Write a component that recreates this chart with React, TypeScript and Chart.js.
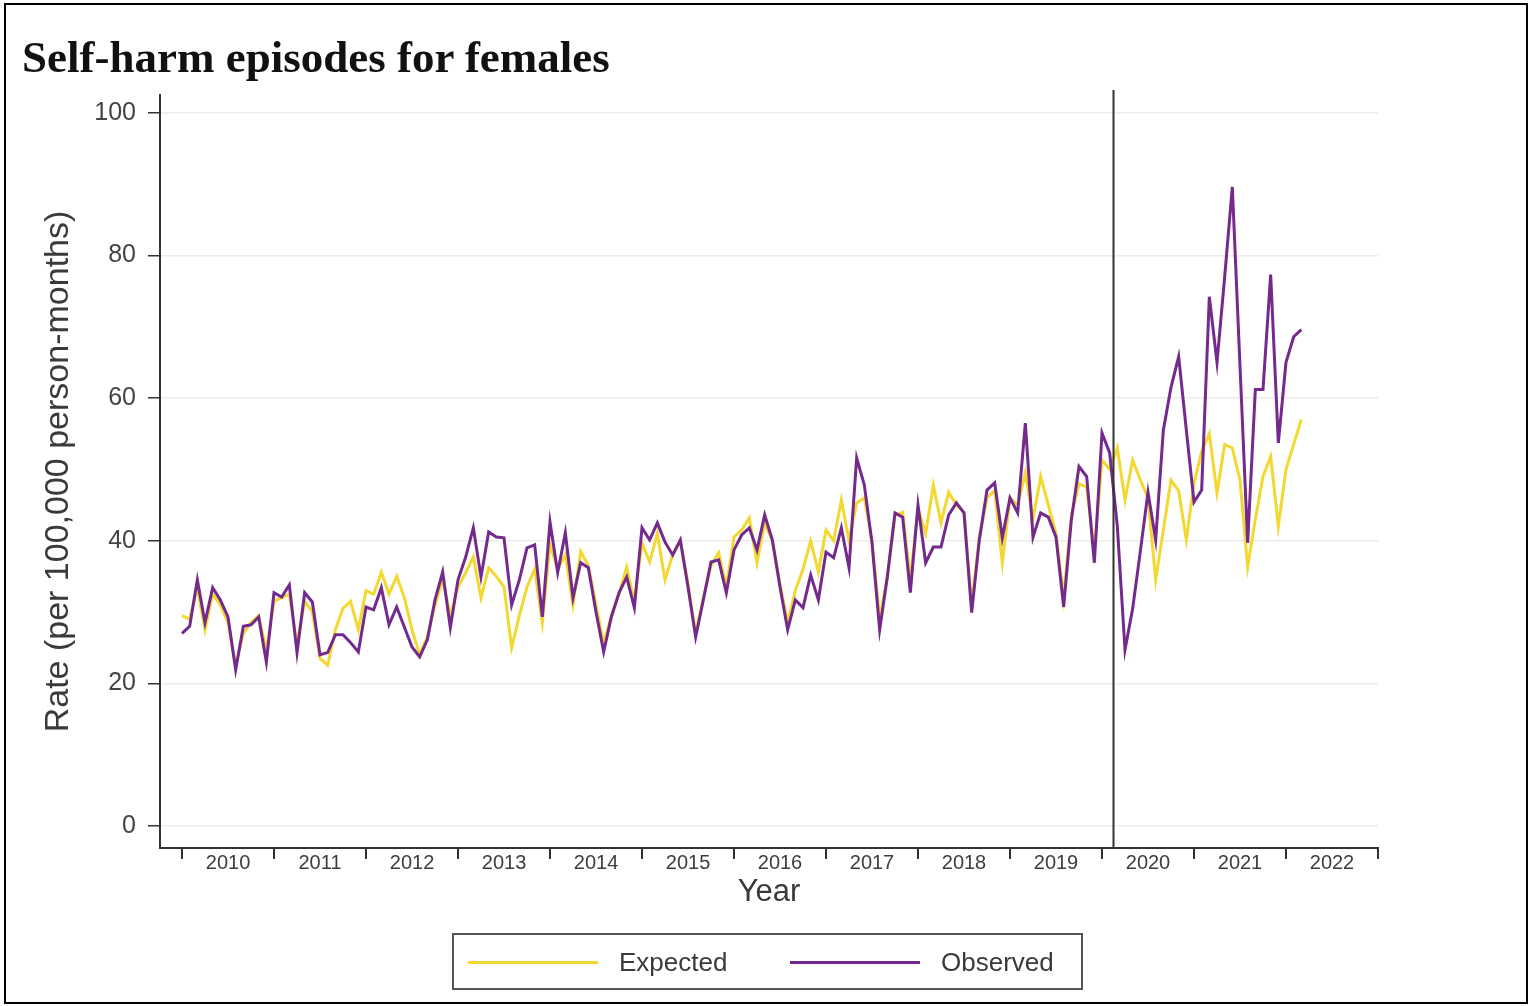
import { useEffect, useRef } from 'react';
import { Chart, registerables } from 'chart.js';

Chart.register(...registerables);

// Monthly rates, Jan 2010 – Mar 2022 (index 0 = Jan 2010)
const observed = [
  27.0, 28.0, 34.5, 28.5, 33.4, 31.7, 29.3, 21.9, 28.0, 28.2, 29.3, 23.0,
  32.7, 32.1, 33.8, 24.3, 32.7, 31.4, 24.0, 24.3, 26.8, 26.8, 25.7, 24.4,
  30.7, 30.3, 33.4, 28.2, 30.7, 27.9, 25.1, 23.7, 26.1, 31.7, 35.6, 27.8,
  34.5, 37.7, 41.8, 34.9, 41.2, 40.5, 40.4, 31.0, 34.5, 39.0, 39.4, 29.3,
  42.6, 35.5, 41.1, 32.0, 36.9, 36.2, 30.0, 24.4, 29.3, 32.7, 34.9, 30.6,
  41.8, 40.1, 42.5, 39.8, 38.0, 40.1, 33.5, 26.5, 31.7, 37.0, 37.3, 32.7,
  38.7, 40.8, 41.8, 38.7, 43.6, 40.1, 33.5, 27.5, 31.7, 30.6, 35.2, 31.7,
  38.4, 37.6, 41.8, 36.2, 51.6, 47.8, 39.7, 27.5, 34.9, 43.9, 43.3, 32.7,
  45.0, 36.9, 39.1, 39.1, 43.6, 45.3, 43.9, 29.9, 40.1, 47.1, 48.1, 40.4,
  46.0, 43.9, 56.5, 40.5, 43.9, 43.3, 40.5, 30.7, 42.9, 50.4, 49.0, 36.9,
  55.1, 52.3, 42.0, 24.7, 30.5, 38.5, 46.8, 40.1, 55.5, 61.5, 65.8, 55.5,
  45.4, 47.1, 74.2, 65.0, 77.0, 89.6, 64.5, 39.7, 61.2, 61.2, 77.3, 53.7,
  65.0, 68.6, 69.6,
];

const expected = [
  29.5, 29.0, 33.5, 27.5, 32.5, 31.0, 28.5, 22.5, 27.0, 28.5, 29.5, 24.5,
  31.5, 32.0, 32.5, 25.5, 31.5, 30.0, 23.5, 22.5, 27.5, 30.5, 31.5, 27.5,
  33.0, 32.5, 35.6, 32.5, 35.0, 32.0, 27.5, 24.0, 26.5, 31.0, 34.5, 29.5,
  33.5, 35.5, 37.7, 32.0, 36.2, 35.0, 33.5, 25.0, 29.5, 33.5, 36.0, 28.5,
  39.5, 36.0, 38.0, 31.0, 38.5, 36.5, 31.0, 25.5, 29.5, 32.5, 36.3, 31.5,
  39.7, 37.0, 41.0, 34.5, 38.0, 40.0, 34.0, 27.0, 32.0, 36.5, 38.3, 33.5,
  40.5, 41.5, 43.2, 36.9, 42.5, 40.0, 34.0, 28.5, 33.0, 36.0, 40.0, 35.6,
  41.5, 40.0, 45.7, 40.0, 45.3, 46.0, 40.0, 29.0, 35.0, 43.5, 44.0, 34.5,
  44.5, 41.0, 47.8, 42.5, 46.8, 45.0, 44.0, 31.0, 40.5, 46.0, 47.0, 36.9,
  46.0, 45.0, 49.5, 43.0, 49.0, 45.0, 41.0, 32.0, 43.5, 48.0, 47.5, 38.5,
  51.3, 50.0, 53.0, 45.7, 51.3, 48.5, 46.0, 34.5, 41.5, 48.5, 47.0, 40.1,
  48.0, 52.5, 55.0, 46.7, 53.5, 53.0, 48.5, 36.3, 43.0, 49.0, 51.8, 42.0,
  50.0, 53.5, 57.0,
];

const START_YEAR = 2010;
// Year boundaries, in months since Jan 2010
const yearTicks = [0, 12, 24, 36, 48, 60, 72, 84, 96, 108, 120, 132, 144, 156];
const rateTicks = [0, 20, 40, 60, 80, 100];
// Start of the pandemic period (between Feb and Mar 2020)
const interruptionMonth = 121.5;

const EXPECTED_COLOR = '#f2d831';
const OBSERVED_COLOR = '#74298c';
const AXIS_COLOR = '#333333';
const TEXT_COLOR = '#3a3a3a';
const SANS = '"Liberation Sans", Arial, Helvetica, sans-serif';

const interruptionLine = {
  id: 'interruptionLine',
  afterDatasetsDraw(chart: any) {
    const { ctx, chartArea, scales } = chart;
    const x = scales.x.getPixelForValue(interruptionMonth);
    ctx.save();
    ctx.strokeStyle = AXIS_COLOR;
    ctx.lineWidth = 2;
    ctx.beginPath();
    ctx.moveTo(x, chartArea.top - 5);
    ctx.lineTo(x, chartArea.bottom);
    ctx.stroke();
    ctx.restore();
  },
};

export default function App() {
  const canvasRef = useRef<HTMLCanvasElement | null>(null);

  useEffect(() => {
    const canvas = canvasRef.current;
    if (!canvas) return;
    const chart = new Chart(canvas, {
      type: 'line',
      data: {
        datasets: [
          {
            label: 'Observed',
            data: observed.map((v, i) => ({ x: i, y: v })),
            borderColor: OBSERVED_COLOR,
            borderWidth: 3,
            pointRadius: 0,
            tension: 0,
            order: 0,
          },
          {
            label: 'Expected',
            data: expected.map((v, i) => ({ x: i, y: v })),
            borderColor: EXPECTED_COLOR,
            borderWidth: 3,
            pointRadius: 0,
            tension: 0,
            order: 1,
          },
        ],
      },
      options: {
        responsive: false,
        animation: false,
        events: [],
        layout: { padding: { left: 0, top: 95, right: 153, bottom: 0 } },
        plugins: {
          legend: { display: false },
          title: { display: false },
          tooltip: { enabled: false },
        },
        scales: {
          x: {
            type: 'linear',
            min: -2.87,
            max: 156,
            afterBuildTicks: (scale: any) => {
              scale.ticks = yearTicks.map((v) => ({ value: v }));
            },
            afterFit: (scale: any) => {
              scale.height = 158;
            },
            grid: {
              drawOnChartArea: false,
              drawTicks: true,
              tickLength: 11,
              color: AXIS_COLOR,
              tickColor: AXIS_COLOR,
              lineWidth: 2,
            },
            border: { display: true, color: AXIS_COLOR, width: 2 },
            ticks: {
              autoSkip: false,
              maxRotation: 0,
              minRotation: 0,
              padding: -8,
              labelOffset: 46,
              color: '#3d3d3d',
              font: { family: SANS, size: 20 },
              callback: (v: any) => (Number(v) < 156 ? String(START_YEAR + Number(v) / 12) : ''),
            },
            title: {
              display: true,
              text: 'Year',
              color: TEXT_COLOR,
              font: { family: SANS, size: 31 },
              padding: { top: 0, bottom: 95 },
            },
          },
          y: {
            type: 'linear',
            min: -3.1,
            max: 102.5,
            afterBuildTicks: (scale: any) => {
              scale.ticks = rateTicks.map((v) => ({ value: v }));
            },
            afterFit: (scale: any) => {
              scale.width = 160;
            },
            grid: {
              drawOnChartArea: true,
              drawTicks: true,
              tickLength: 12,
              color: '#ececec',
              tickColor: AXIS_COLOR,
              lineWidth: 1.5,
            },
            border: { display: true, color: AXIS_COLOR, width: 2 },
            ticks: {
              padding: 12,
              color: '#444444',
              font: { family: SANS, size: 25 },
            },
            title: {
              display: true,
              text: 'Rate (per 100,000 person-months)',
              color: TEXT_COLOR,
              font: { family: SANS, size: 34 },
              padding: { top: 38, bottom: 0 },
            },
          },
        },
      },
      plugins: [interruptionLine],
    } as any);
    return () => chart.destroy();
  }, []);

  const legendText: React.CSSProperties = {
    position: 'absolute',
    fontFamily: SANS,
    fontSize: 26,
    lineHeight: '30px',
    color: TEXT_COLOR,
    top: 947,
  };
  const legendLine = (color: string, left: number): React.CSSProperties => ({
    position: 'absolute',
    left,
    top: 961,
    width: 130,
    height: 3,
    background: color,
  });

  return (
    <div
      style={{
        position: 'fixed',
        left: 0,
        top: 0,
        width: 1531,
        height: 1006,
        background: '#ffffff',
        overflow: 'hidden',
      }}
    >
      <canvas
        ref={canvasRef}
        width={1531}
        height={1006}
        style={{ position: 'absolute', left: 0, top: 0, width: 1531, height: 1006 }}
      />
      <div
        style={{
          position: 'absolute',
          left: 22,
          top: 35,
          fontFamily: '"Liberation Serif", "Times New Roman", serif',
          fontWeight: 700,
          fontSize: 45,
          lineHeight: '44px',
          color: '#111111',
          whiteSpace: 'nowrap',
        }}
      >
        Self-harm episodes for females
      </div>
      <div
        style={{
          position: 'absolute',
          left: 452,
          top: 933,
          width: 631,
          height: 57,
          boxSizing: 'border-box',
          border: '2px solid #555555',
        }}
      />
      <div style={legendLine(EXPECTED_COLOR, 468)} />
      <div style={{ ...legendText, left: 619 }}>Expected</div>
      <div style={legendLine(OBSERVED_COLOR, 790)} />
      <div style={{ ...legendText, left: 941 }}>Observed</div>
      <div
        style={{
          position: 'absolute',
          left: 4,
          top: 3,
          width: 1524,
          height: 1001,
          boxSizing: 'border-box',
          border: '2px solid #000000',
          pointerEvents: 'none',
        }}
      />
    </div>
  );
}
